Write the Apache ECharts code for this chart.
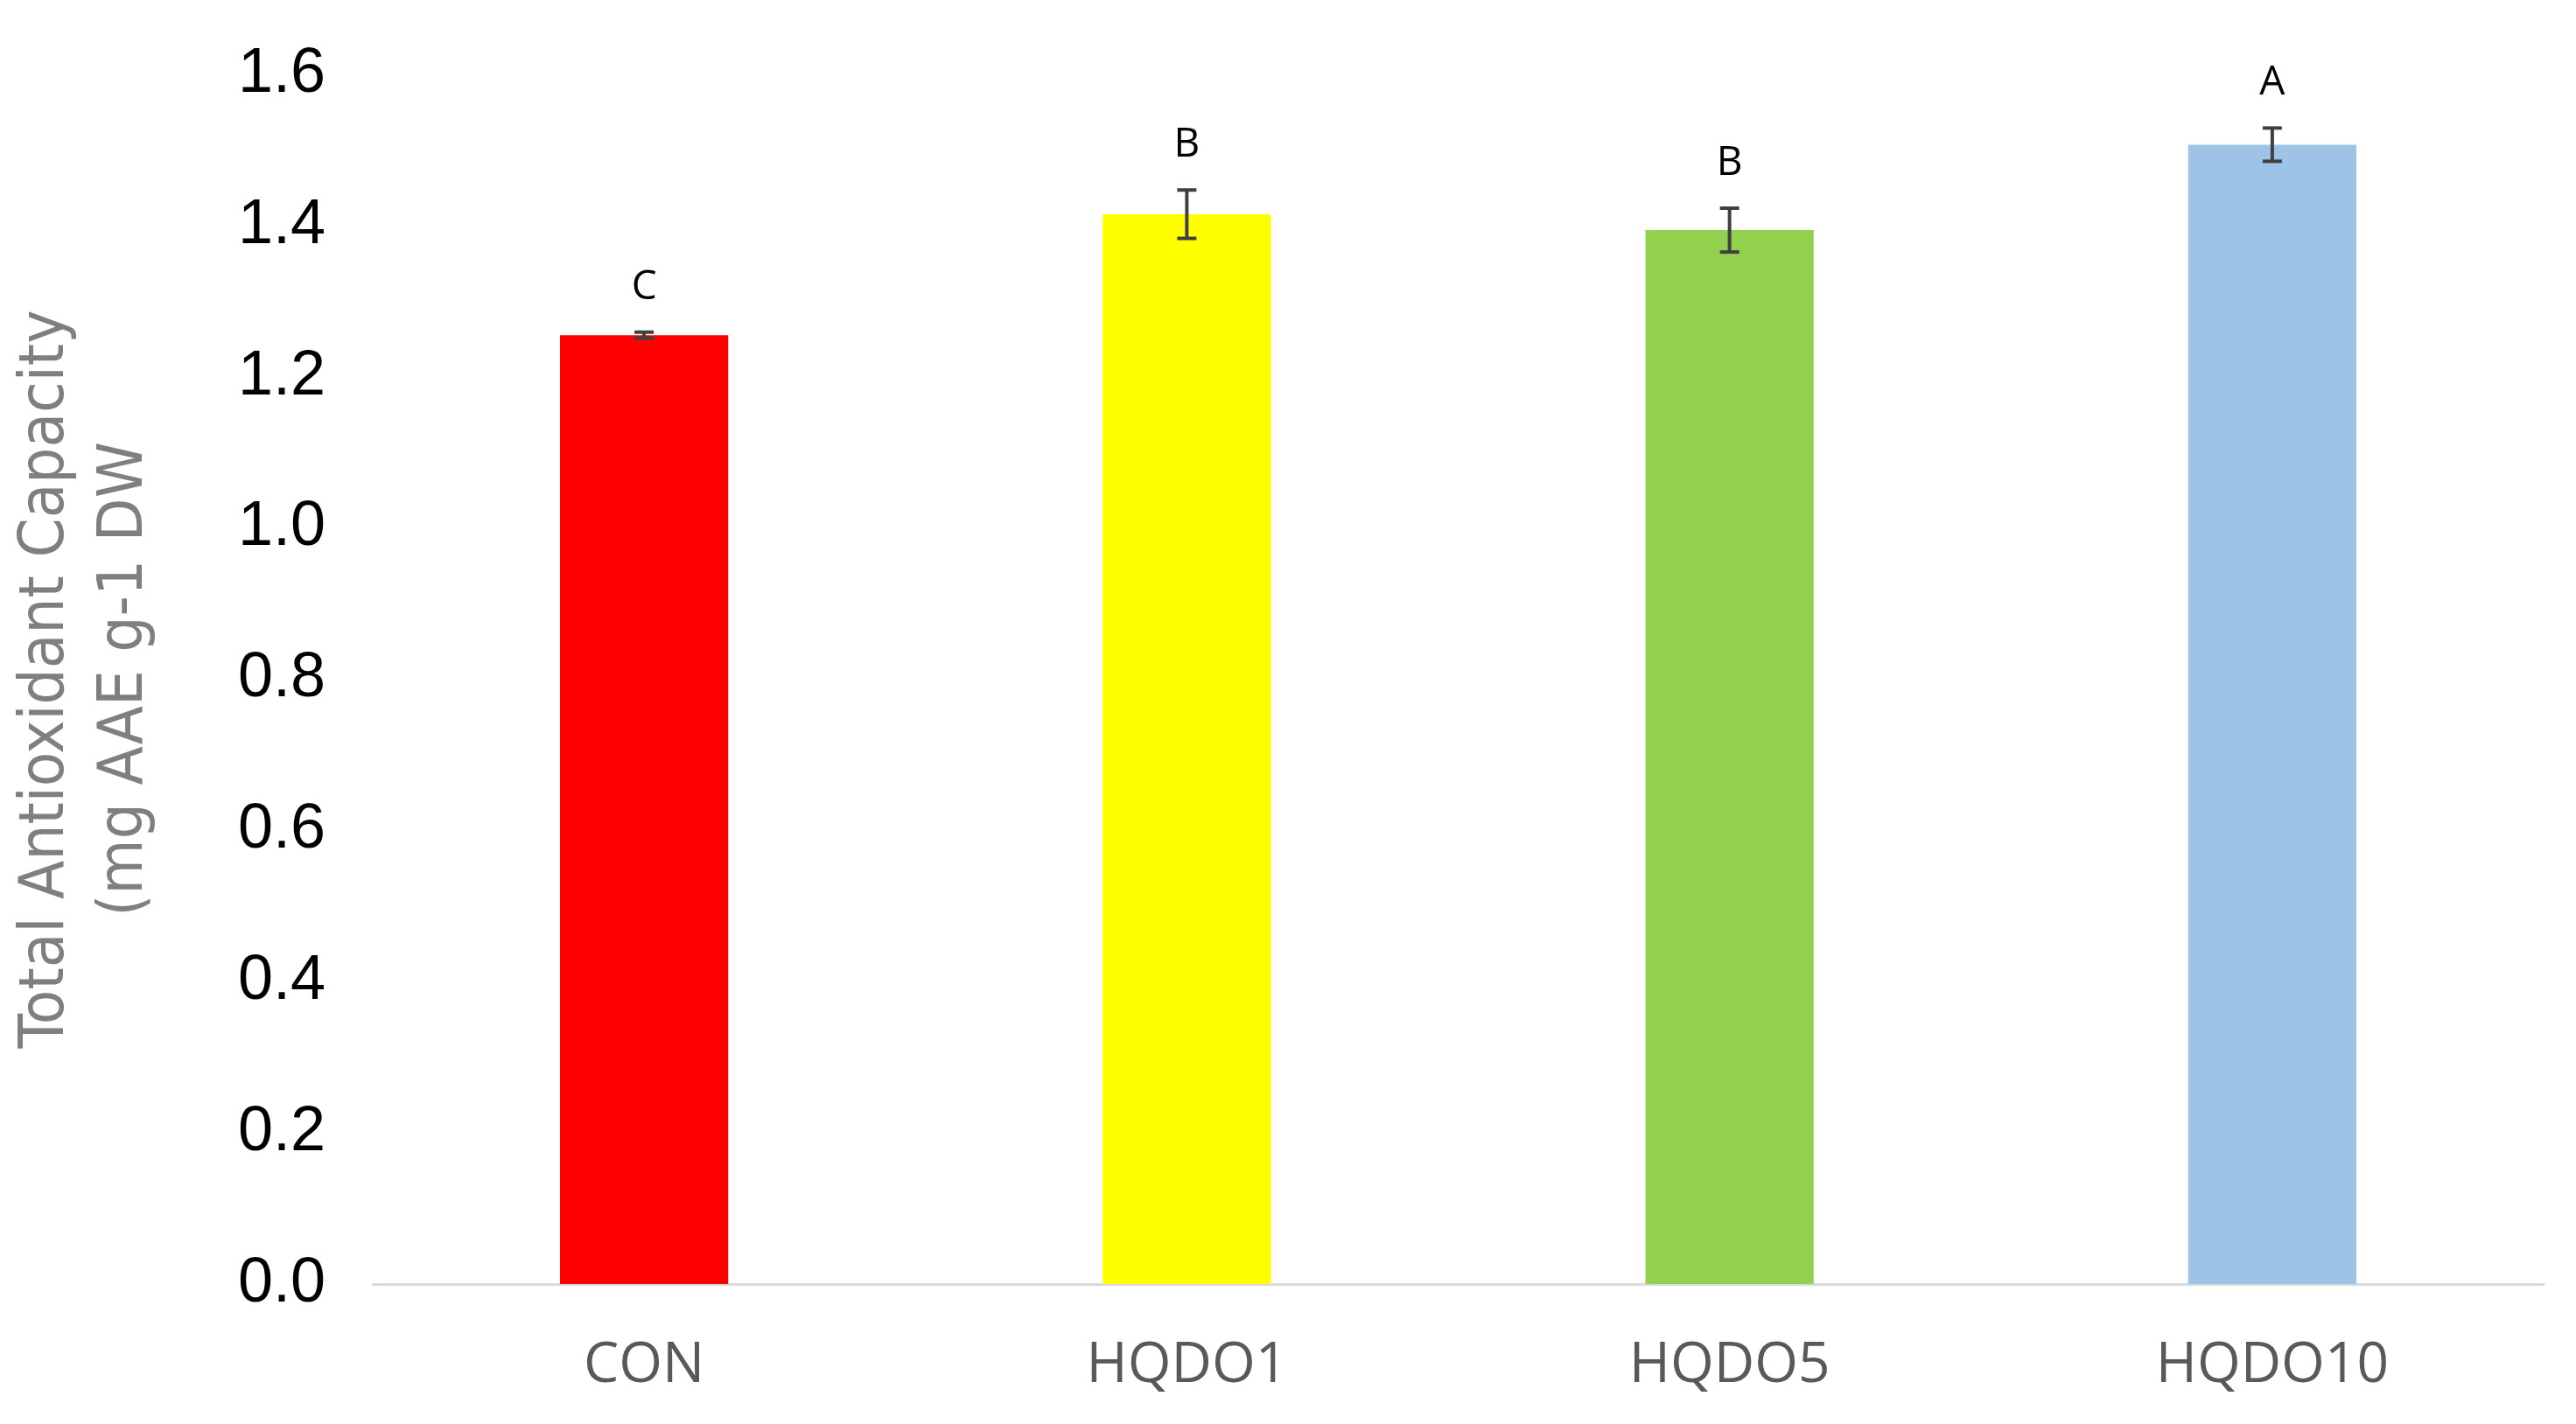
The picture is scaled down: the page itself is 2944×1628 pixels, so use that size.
<!DOCTYPE html>
<html>
<head>
<meta charset="utf-8">
<script src="https://cdn.jsdelivr.net/npm/echarts@6/dist/echarts.min.js"></script>
<style>html,body{margin:0;padding:0;background:#fff}#chart{width:2944px;height:1628px}</style>
</head>
<body>
<div id="chart"></div>
<script>
var categories = ['CON', 'HQDO1', 'HQDO5', 'HQDO10'];
var values = [1.255, 1.415, 1.394, 1.507];
var errors = [0.004, 0.032, 0.029, 0.022];
var letters = ['C', 'B', 'B', 'A'];
var colors = ['#ff0000', '#ffff00', '#92d050', '#9dc3e6'];

var myChart = echarts.init(document.getElementById('chart'));

var errData = values.map(function (v, i) { return [i, v - errors[i], v + errors[i], letters[i]]; });

var option = {
    animation: false,
    grid: { left: 402, right: 37, top: 85, bottom: 160 },
    xAxis: {
        type: 'category',
        data: categories,
        axisLine: { lineStyle: { color: '#d9d9d9', width: 3 } },
        axisTick: { show: false },
        axisLabel: { color: '#595959', fontSize: 64, fontFamily: 'Open Sans', margin: 62 }
    },
    yAxis: {
        type: 'value',
        min: 0,
        max: 1.6,
        interval: 0.2,
        splitLine: { show: false },
        axisLine: { show: false },
        axisLabel: {
            color: '#000', fontSize: 72, fontFamily: 'Liberation Sans', margin: 54,
            formatter: function (v) { return v.toFixed(1); }
        },
        name: 'Total Antioxidant Capacity\n(mg AAE g-1 DW',
        nameLocation: 'middle',
        nameRotate: 90,
        nameGap: 238,
        nameTextStyle: { color: '#7f7f7f', fontSize: 72, fontFamily: 'DejaVu Sans Condensed', lineHeight: 90 }
    },
    series: [
        {
            type: 'bar',
            barWidth: '31%',
            data: values.map(function (v, i) { return { value: v, itemStyle: { color: colors[i] } }; })
        },
        {
            type: 'custom',
            data: errData,
            z: 10,
            renderItem: function (params, api) {
                var x = api.value(0);
                var lo = api.coord([x, api.value(1)]);
                var hi = api.coord([x, api.value(2)]);
                var hw = 11;
                var st = { stroke: '#404040', lineWidth: 4 };
                return {
                    type: 'group',
                    children: [
                        { type: 'line', shape: { x1: lo[0], y1: lo[1], x2: hi[0], y2: hi[1] }, style: st },
                        { type: 'line', shape: { x1: lo[0] - hw, y1: lo[1], x2: lo[0] + hw, y2: lo[1] }, style: st },
                        { type: 'line', shape: { x1: hi[0] - hw, y1: hi[1], x2: hi[0] + hw, y2: hi[1] }, style: st },
                        {
                            type: 'text',
                            style: {
                                text: api.value(3), x: hi[0], y: hi[1] - 28,
                                textAlign: 'center', textVerticalAlign: 'bottom',
                                fill: '#000', fontSize: 46, fontFamily: 'Open Sans'
                            }
                        }
                    ]
                };
            }
        }
    ]
};
myChart.setOption(option);
</script>
</body>
</html>
